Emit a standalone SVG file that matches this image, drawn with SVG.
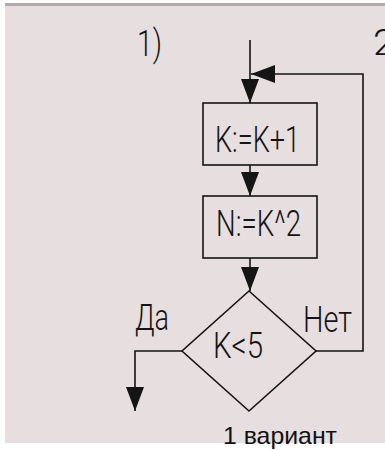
<svg xmlns="http://www.w3.org/2000/svg" width="385" height="450" viewBox="0 0 385 450">
  <style>
    .bg { fill: #e7dfdf; }
    .shape { fill: none; stroke: #151515; stroke-width: 1.6; }
    .edge { fill: none; stroke: #151515; stroke-width: 1.6; }
    .lbl { font-family: Roboto, "Liberation Sans", Arial, sans-serif; font-weight: 300; fill: #151515; font-size: 37px; }
    .cap { font-family: "Liberation Sans", Arial, sans-serif; fill: #111; font-size: 24px; }
  </style>
  <defs>
    <marker id="arr" markerUnits="userSpaceOnUse" markerWidth="25" markerHeight="19" refX="24" refY="9" orient="auto">
      <path d="M0,0 L24,9 L0,18 Z" fill="#151515"/>
    </marker>
  </defs>
  <rect x="0" y="0" width="385" height="450" fill="#ffffff"/>
  <rect x="5" y="3" width="380" height="3" fill="#b2aaaa"/>
  <rect class="bg" x="5" y="6" width="380" height="437"/>

  <text class="lbl" x="137" y="56" font-size="45" textLength="25" lengthAdjust="spacingAndGlyphs">1)</text>
  <text class="lbl" x="373" y="55" font-size="42" textLength="22" lengthAdjust="spacingAndGlyphs">2</text>

  <g id="connectors">
    <path class="edge" d="M250,40 V103" marker-end="url(#arr)"/>
    <path class="edge" d="M250,165 V196" marker-end="url(#arr)"/>
    <path class="edge" d="M250,258 V291" marker-end="url(#arr)"/>
    <path class="edge" d="M182,351 H135 V411" marker-end="url(#arr)"/>
    <path class="edge" d="M316,351 H363 V74 H251" marker-end="url(#arr)"/>
  </g>

  <g id="box1">
    <rect class="shape" x="203" y="103" width="114" height="62"/>
    <text class="lbl" x="215" y="152" textLength="85" lengthAdjust="spacingAndGlyphs">K:=K+1</text>
  </g>
  <g id="box2">
    <rect class="shape" x="203" y="196" width="114" height="62"/>
    <text class="lbl" x="216" y="236" textLength="85" lengthAdjust="spacingAndGlyphs">N:=K^2</text>
  </g>
  <g id="decision">
    <polygon class="shape" points="249,291 316,351 249,411 182,351"/>
    <text class="lbl" x="213" y="358" textLength="50" lengthAdjust="spacingAndGlyphs">K&lt;5</text>
  </g>
  <g id="labels">
    <text class="lbl" x="135" y="330" textLength="34" lengthAdjust="spacingAndGlyphs">Да</text>
    <text class="lbl" x="303" y="332" textLength="49" lengthAdjust="spacingAndGlyphs">Нет</text>
  </g>
  <text class="cap" x="223" y="444" textLength="114" lengthAdjust="spacingAndGlyphs">1 вариант</text>
</svg>
